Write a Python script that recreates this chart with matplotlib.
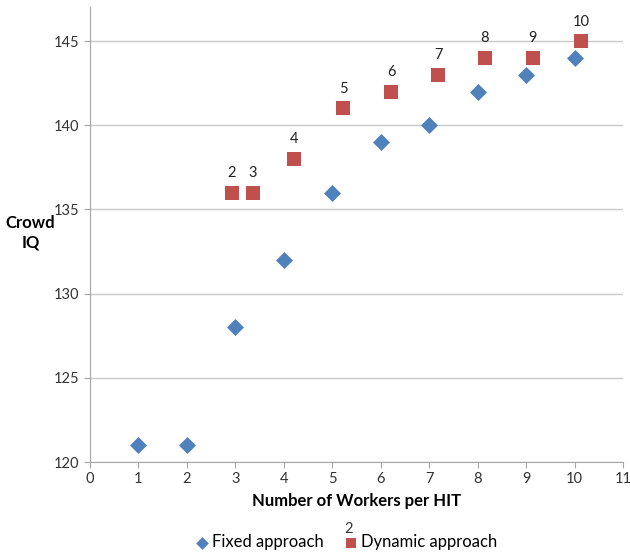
import matplotlib.pyplot as plt

# Fixed number of workers per HIT
fixed_workers = [1, 2, 3, 4, 5, 6, 7, 8, 9, 10]
fixed_iq = [121, 121, 128, 132, 136, 139, 140, 142, 143, 144]

# Dynamic approach: average workers per HIT, labelled by threshold
dynamic_workers = [2.92, 3.36, 4.22, 5.22, 6.22, 7.19, 8.15, 9.14, 10.13]
dynamic_iq = [136, 136, 138, 141, 142, 143, 144, 144, 145]
dynamic_labels = ['2', '3', '4', '5', '6', '7', '8', '9', '10']

x_ticks = list(range(0, 12))
y_ticks = [120, 125, 130, 135, 140, 145]

plt.rcParams['font.family'] = ['Lato', 'DejaVu Sans']

fig = plt.figure(figsize=(6.3, 5.53), dpi=100)
ax = fig.add_axes([0.1429, 0.1645, 0.846, 0.822])

ax.scatter(fixed_workers, fixed_iq, marker='D', s=75, color='#4F81BD',
           label='Fixed approach', zorder=3, linewidths=0)
ax.scatter(dynamic_workers, dynamic_iq, marker='s', s=95, color='#C0504D',
           label='Dynamic approach', zorder=3, linewidths=0)

for x, y, lab in zip(dynamic_workers, dynamic_iq, dynamic_labels):
    ax.annotate(lab, (x, y), xytext=(0, 9), textcoords='offset points',
                ha='center', va='bottom', fontsize=10.5, color='#222222')

ax.set_xlim(0, 11)
ax.set_ylim(120, 147)
ax.set_xticks(x_ticks)
ax.set_yticks(y_ticks)
ax.grid(axis='y', color='#C8C8C8', linewidth=1)
ax.set_axisbelow(True)

for side in ['top', 'right']:
    ax.spines[side].set_visible(False)
for side in ['left', 'bottom']:
    ax.spines[side].set_color('#A6A6A6')
ax.tick_params(colors='#A6A6A6', labelcolor='#333333', labelsize=10.5,
               length=4, direction='out')

ax.set_xlabel('Number of Workers per HIT', fontsize=12, fontweight='bold',
              labelpad=5)
ax.set_ylabel('Crowd\nIQ', fontsize=12, fontweight='bold', rotation=0,
              ha='center', va='center', linespacing=1.3)
ax.yaxis.set_label_coords(-0.112, 0.505)

leg = ax.legend(loc='center', bbox_to_anchor=(0.478, -0.177), ncol=2,
                frameon=False, fontsize=12, handletextpad=0.0,
                columnspacing=1.0, markerscale=0.75, handlelength=1.2,
                borderpad=0)
fig.text(0.554, 0.037, '2', fontsize=10.5, color='#333333', ha='center')

fig.savefig('out.png', dpi=100)
